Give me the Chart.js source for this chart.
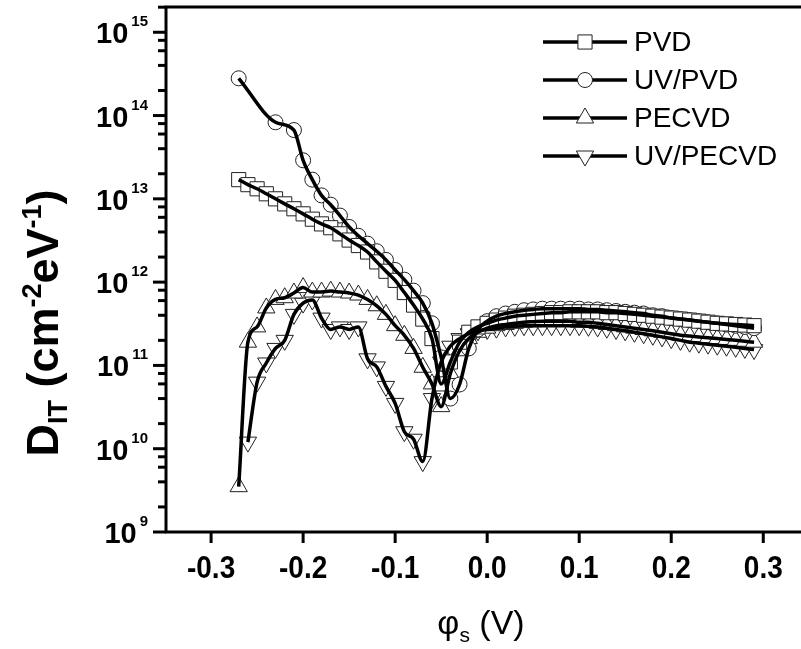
<!DOCTYPE html>
<html><head><meta charset="utf-8">
<script src="https://cdn.jsdelivr.net/npm/chart.js@4.4.1/dist/chart.umd.min.js"></script>
<style>html,body{margin:0;padding:0;background:#fff;overflow:hidden;}#wrap{width:801px;height:649px;}canvas{display:block;}</style>
</head><body><div id="wrap"><canvas id="c" width="801" height="649"></canvas></div>
<script>
// surface potential (V)
const phi = [-0.27,-0.26,-0.25,-0.24,-0.23,-0.22,-0.21,-0.20,-0.19,-0.18,-0.17,-0.16,-0.15,-0.14,-0.13,-0.12,-0.11,-0.10,-0.09,-0.08,-0.07,-0.06,-0.05,-0.04,-0.03,-0.02,-0.01,0.00,0.01,0.02,0.03,0.04,0.05,0.06,0.07,0.08,0.09,0.10,0.11,0.12,0.13,0.14,0.15,0.16,0.17,0.18,0.19,0.20,0.21,0.22,0.23,0.24,0.25,0.26,0.27,0.28,0.29];
const PVD = [1.7e13,1.48e13,1.32e13,1.15e13,1.0e13,8.7e12,7.6e12,6.6e12,5.7e12,5.0e12,4.5e12,3.8e12,3.2e12,2.75e12,2.3e12,1.75e12,1.35e12,1.05e12,7.5e11,5.3e11,3.6e11,2.1e11,6.0e10,1.1e11,1.9e11,2.5e11,2.9e11,3.2e11,3.5e11,3.7e11,3.9e11,4.0e11,4.1e11,4.2e11,4.3e11,4.3e11,4.4e11,4.4e11,4.4e11,4.4e11,4.3e11,4.3e11,4.2e11,4.1e11,4.0e11,3.9e11,3.8e11,3.7e11,3.6e11,3.5e11,3.4e11,3.3e11,3.2e11,3.15e11,3.1e11,3.05e11,3.0e11];
const UV_PVD = [2.8e14,null,null,null,8.3e13,null,6.7e13,2.9e13,1.7e13,1.1e13,8.5e12,6.3e12,4.6e12,3.6e12,2.9e12,2.35e12,1.85e12,1.4e12,1.07e12,7.9e11,5.6e11,3.2e11,1.25e11,4.0e10,5.9e10,1.6e11,2.7e11,3.4e11,3.9e11,4.2e11,4.4e11,4.6e11,4.7e11,4.8e11,4.8e11,4.8e11,4.8e11,4.8e11,4.7e11,4.7e11,4.6e11,4.5e11,4.4e11,4.3e11,4.2e11,4.0e11,3.9e11,3.7e11,3.6e11,3.5e11,3.4e11,3.3e11,3.2e11,3.1e11,3.0e11,2.9e11,2.8e11];
const PECVD = [3.5e9,1.9e11,2.9e11,4.9e11,6.2e11,6.5e11,7.4e11,8.6e11,7.6e11,7.6e11,7.8e11,7.6e11,7.4e11,7.0e11,6.2e11,5.2e11,4.1e11,3.0e11,2.3e11,1.6e11,9.5e10,6.0e10,3.2e10,8.0e10,1.5e11,2.1e11,2.5e11,2.8e11,3.0e11,3.1e11,3.2e11,3.3e11,3.35e11,3.4e11,3.4e11,3.4e11,3.4e11,3.3e11,3.3e11,3.2e11,3.1e11,3.0e11,2.9e11,2.8e11,2.7e11,2.6e11,2.5e11,2.4e11,2.3e11,2.25e11,2.2e11,2.15e11,2.1e11,2.05e11,2.0e11,1.95e11,1.9e11];
const UV_PECVD = [null,1.2e10,6.3e10,1.07e11,1.6e11,2.0e11,4.1e11,5.6e11,6.1e11,3.7e11,2.7e11,2.9e11,2.7e11,2.9e11,1.2e11,9.6e10,5.6e10,3.5e10,1.6e10,1.3e10,7.0e9,4.0e10,1.1e11,1.7e11,2.1e11,2.4e11,2.6e11,2.7e11,2.8e11,2.9e11,2.95e11,3.0e11,3.0e11,3.0e11,3.0e11,3.0e11,3.0e11,3.0e11,2.95e11,2.9e11,2.8e11,2.7e11,2.6e11,2.5e11,2.4e11,2.3e11,2.2e11,2.1e11,2.0e11,1.9e11,1.85e11,1.8e11,1.75e11,1.7e11,1.65e11,1.6e11,1.55e11];
const seriesNames = ['PVD','UV/PVD','PECVD','UV/PECVD'];
const xTickValues = [-0.3,-0.2,-0.1,0.0,0.1,0.2,0.3];
const xTickLabels = ['-0.3','-0.2','-0.1','0.0','0.1','0.2','0.3'];
const yDecades = [9,10,11,12,13,14,15];
const yMinorMult = [2,4,6,8];

const styles = [
  {pointStyle:'rect', radius:10, rotation:0},
  {pointStyle:'circle', radius:7.5, rotation:0},
  {pointStyle:'triangle', radius:10, rotation:0},
  {pointStyle:'triangle', radius:10, rotation:180}
];
const allSeries = [PVD, UV_PVD, PECVD, UV_PECVD];
const toPts = arr => phi.map((x,i)=>({x:x, y:arr[i]})).filter(p=>p.y!==null);

const datasets = [];
allSeries.forEach((arr,i)=>{
  const pts = toPts(arr);
  datasets.push({label:seriesNames[i]+' line', data:pts, borderColor:'#000', borderWidth:3.5,
    pointRadius:0, cubicInterpolationMode:'monotone', fill:false, order:1});
  datasets.push({label:seriesNames[i], data:pts, showLine:false, pointStyle:styles[i].pointStyle,
    pointRadius:styles[i].radius, pointRotation:styles[i].rotation, pointBackgroundColor:'#fff',
    pointBorderColor:'#222', pointBorderWidth:1, order:2});
});

const FONT = '"Liberation Sans", Arial, Helvetica, sans-serif';

function drawMarker(ctx, st, x, y){
  ctx.save();
  ctx.fillStyle='#fff'; ctx.strokeStyle='#222'; ctx.lineWidth=1;
  ctx.beginPath();
  const r = st.radius;
  if(st.pointStyle==='circle'){ ctx.arc(x,y,r,0,Math.PI*2); }
  else if(st.pointStyle==='rect'){ const s=Math.SQRT1_2*r; ctx.rect(x-s,y-s,2*s,2*s); }
  else {
    let rad = st.rotation*Math.PI/180;
    ctx.moveTo(x+Math.sin(rad)*r, y-Math.cos(rad)*r);
    rad += 2*Math.PI/3; ctx.lineTo(x+Math.sin(rad)*r, y-Math.cos(rad)*r);
    rad += 2*Math.PI/3; ctx.lineTo(x+Math.sin(rad)*r, y-Math.cos(rad)*r);
    ctx.closePath();
  }
  ctx.fill(); ctx.stroke();
  ctx.restore();
}

const deco = {
  id:'deco',
  afterDraw(chart){
    const ctx=chart.ctx, xs=chart.scales.x, ys=chart.scales.y, a=chart.chartArea;
    ctx.save();
    ctx.strokeStyle='#000'; ctx.fillStyle='#000'; ctx.lineCap='butt';
    // frame
    ctx.lineWidth=3;
    ctx.beginPath();
    ctx.moveTo(a.left, a.bottom+1.5); ctx.lineTo(a.left, a.top-1.5);
    ctx.moveTo(a.left-1.5, a.top); ctx.lineTo(a.right, a.top);
    ctx.moveTo(a.left-1.5, a.bottom); ctx.lineTo(a.right, a.bottom);
    ctx.stroke();
    // y ticks
    ctx.lineWidth=3;
    yDecades.forEach(e=>{
      const v=Math.pow(10,e);
      const y=ys.getPixelForValue(v);
      ctx.beginPath(); ctx.moveTo(a.left-13,y); ctx.lineTo(a.left,y); ctx.stroke();
      yMinorMult.forEach(m=>{
        const mv=m*v; if(mv>ys.max) return;
        const my=ys.getPixelForValue(mv);
        ctx.beginPath(); ctx.moveTo(a.left-8,my); ctx.lineTo(a.left,my); ctx.stroke();
      });
      // label 10^e
      const big='bold 29px '+FONT, small='bold 15px '+FONT;
      ctx.font=small; const sw=ctx.measureText(String(e)).width;
      ctx.font=big; const bw=ctx.measureText('10').width;
      const right=148, gap=3;
      const x0=right-sw-gap-bw;
      ctx.textAlign='left'; ctx.textBaseline='alphabetic';
      ctx.fillText('10', x0, y+11);
      ctx.font=small; ctx.fillText(String(e), x0+bw+gap, y-6);
    });
    // x ticks
    xTickValues.forEach((v,i)=>{
      const x=xs.getPixelForValue(v);
      ctx.beginPath(); ctx.moveTo(x,a.bottom); ctx.lineTo(x,a.bottom+11); ctx.stroke();
      ctx.save();
      ctx.translate(x, 578); ctx.scale(1,1.1);
      ctx.font='bold 28px '+FONT; ctx.textAlign='center'; ctx.textBaseline='alphabetic';
      ctx.fillText(xTickLabels[i], 0, 0);
      ctx.restore();
    });
    // x title: phi_s (V)
    {
      const f1='34px '+FONT, f2='21px '+FONT;
      ctx.textAlign='left';
      ctx.font=f1; const w1=ctx.measureText('\u03C6').width, w3=ctx.measureText(' (V)').width;
      ctx.font=f2; const w2=ctx.measureText('s').width;
      const tot=w1+w2+w3; let x=481-tot/2; const base=634;
      ctx.font=f1; ctx.fillText('\u03C6',x,base); x+=w1;
      ctx.font=f2; ctx.fillText('s',x,base+8); x+=w2;
      ctx.font=f1; ctx.fillText(' (V)',x,base);
    }
    // y title: D_IT (cm^-2 eV^-1)
    {
      const F=45, fs=27;
      const parts=[['D',0,F],['IT',1,fs],[' (cm',0,F],['-2',-1,fs],['eV',0,F],['-1',-1,fs],[')',0,F]];
      let tot=0; parts.forEach(p=>{ctx.font='bold '+p[2]+'px '+FONT; p.push(ctx.measureText(p[0]).width); tot+=p[3];});
      ctx.save();
      ctx.translate(58, 323); ctx.rotate(-Math.PI/2);
      let x=-tot/2; ctx.textAlign='left'; ctx.textBaseline='alphabetic';
      parts.forEach(p=>{
        ctx.font='bold '+p[2]+'px '+FONT;
        const dy = p[1]===1 ? 9 : (p[1]===-1 ? -17 : 0);
        ctx.fillText(p[0], x, dy); x+=p[3];
      });
      ctx.restore();
    }
    // legend
    const rows=[42,80,118,156];
    rows.forEach((ry,i)=>{
      ctx.lineWidth=3.5; ctx.strokeStyle='#000';
      ctx.beginPath(); ctx.moveTo(543,ry); ctx.lineTo(627,ry); ctx.stroke();
      drawMarker(ctx, styles[i], 585, ry);
      ctx.fillStyle='#000'; ctx.font='28px '+FONT; ctx.textAlign='left'; ctx.textBaseline='middle';
      ctx.fillText(seriesNames[i], 634, ry+1);
    });
    ctx.restore();
  }
};

new Chart(document.getElementById('c').getContext('2d'), {
  type:'line',
  data:{datasets:datasets},
  options:{
    responsive:false, animation:false, events:[],
    layout:{autoPadding:false, padding:{left:166, top:7, right:0, bottom:117}},
    plugins:{legend:{display:false}, tooltip:{enabled:false}},
    scales:{
      x:{type:'linear', min:-0.349, max:0.341, grid:{display:false, drawTicks:false}, border:{display:false},
         ticks:{display:false}, afterFit(s){s.height=0;}},
      y:{type:'logarithmic', min:1e9, max:2.01e15, grid:{display:false, drawTicks:false}, border:{display:false},
         ticks:{display:false}, afterFit(s){s.width=0;}}
    }
  },
  plugins:[deco]
});
</script></body></html>
